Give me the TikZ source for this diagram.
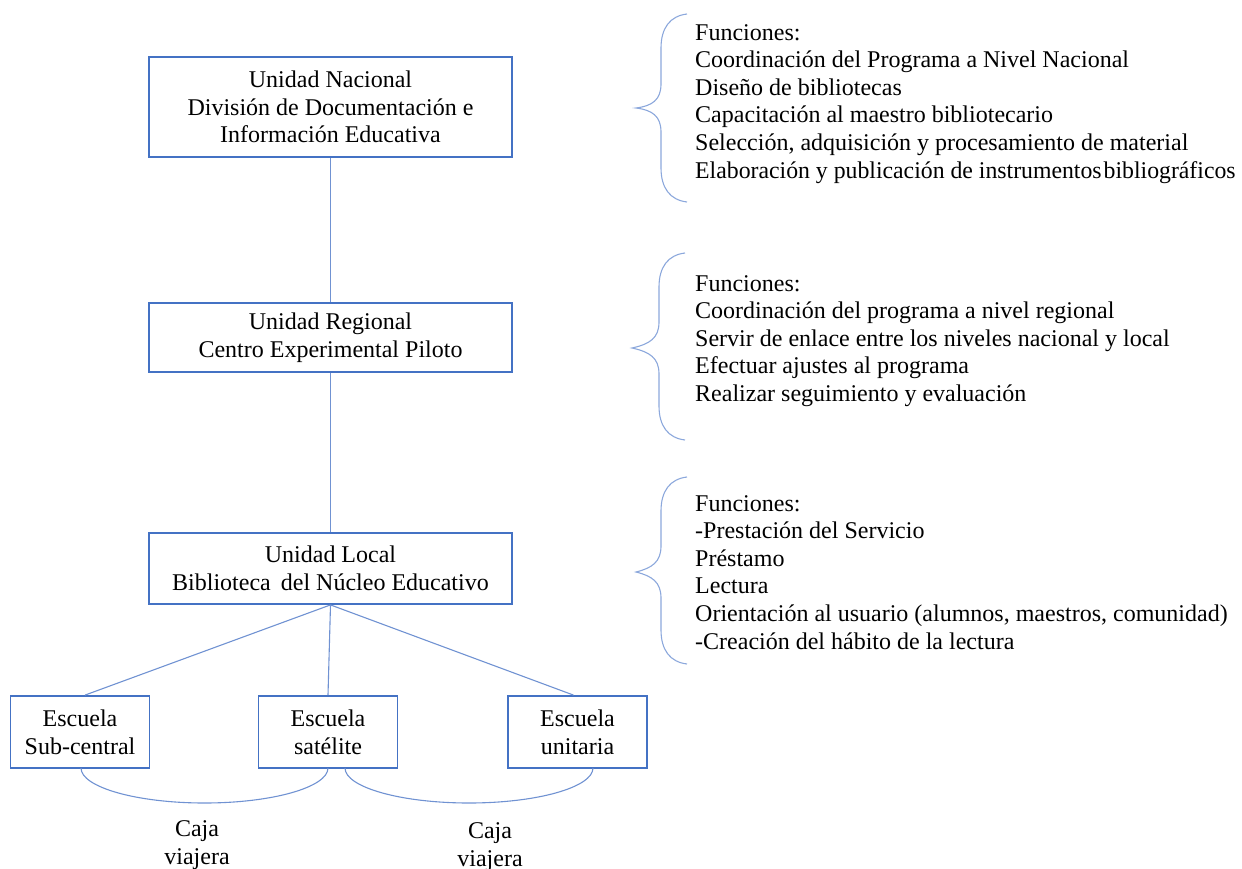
\documentclass[tikz,border=0pt]{standalone}
\usepackage{fontspec}
\setmainfont{Liberation Serif}
\definecolor{boxblue}{RGB}{68,114,196}
\definecolor{lineblue}{RGB}{112,146,210}
\definecolor{braceblue}{RGB}{140,168,220}
\begin{document}
\begin{tikzpicture}[x=1pt,y=-1pt,
  txt/.style={font=\fontsize{24}{27.6}\selectfont},
  unitbox/.style={txt,draw=boxblue,line width=1.8pt,align=center,inner sep=0pt,minimum width=363pt},
  schoolbox/.style={txt,draw=boxblue,line width=1.8pt,align=center,inner sep=0pt,minimum width=139pt,minimum height=72pt},
  conn/.style={draw=lineblue,line width=1.1pt},
  bracepath/.style={draw=braceblue,line width=1.1pt},
  funcs/.style={txt,align=left,anchor=north west,inner sep=0pt},
  label/.style={txt,align=center,inner sep=0pt}]
\useasboundingbox (0,0) rectangle (1242,869);
% unit boxes
\node[unitbox,minimum height=100pt] (nac) at (330.5,107) {Unidad Nacional\\División de Documentación e\\Información Educativa};
\node[unitbox,minimum height=69pt] (reg) at (330.5,337.5) {Unidad Regional\\Centro Experimental Piloto};
\node[unitbox,minimum height=71pt] (loc) at (330.5,568.5) {Unidad Local\\Biblioteca\, del Núcleo Educativo};
% schools
\node[schoolbox] (sub) at (80,732) {Escuela\\Sub-central};
\node[schoolbox] (sat) at (328,732) {Escuela\\satélite};
\node[schoolbox] (uni) at (577.5,732) {Escuela\\unitaria};
% connectors
\draw[conn] (nac.south) -- (reg.north);
\draw[conn] (reg.south) -- (loc.north);
\draw[conn] (loc.south) -- ([xshift=5pt]sub.north);
\draw[conn] (loc.south) -- (sat.north);
\draw[conn] (loc.south) -- ([xshift=-4pt]uni.north);
% travelling box arcs
\coordinate (a1s) at (81,768);
\coordinate (a1e) at (328,768);
\coordinate (a2s) at (345,768);
\coordinate (a2e) at (593,768);
\draw[conn] (a1s) .. controls (81,787) and (136,803) .. (204.5,803) .. controls (273,803) and (328,787) .. (a1e);
\draw[conn] (a2s) .. controls (345,787) and (400,803) .. (469,803) .. controls (538,803) and (593,787) .. (a2e);
\node[label] (c1) at (197,845) {Caja\\viajera};
\node[label] (c2) at (490,847) {Caja\\viajera};
% braces
\draw[bracepath] (687,14) .. controls (670,16) and (661,28) .. (661,48) -- (661,84) .. controls (661,100) and (652,106) .. (636,108) .. controls (652,110) and (661,116) .. (661,132) -- (661,168) .. controls (661,188) and (670,200) .. (687,202);
\draw[bracepath] (685,253) .. controls (668,255) and (659,267) .. (659,287) -- (659,322) .. controls (659,338) and (650,344) .. (632,348) .. controls (650,352) and (659,358) .. (659,374) -- (659,406) .. controls (659,426) and (668,438) .. (685,440);
\draw[bracepath] (687,477) .. controls (670,479) and (661,491) .. (661,511) -- (661,546) .. controls (661,562) and (652,568) .. (636,572) .. controls (652,576) and (661,582) .. (661,598) -- (661,630) .. controls (661,650) and (670,662) .. (687,664);
% function texts
\node[funcs] (f1) at (695,24) {Funciones:\\Coordinación del Programa a Nivel Nacional\\Diseño de bibliotecas\\Capacitación al maestro bibliotecario\\Selección, adquisición y procesamiento de material\\\scalebox{0.99}[1]{Elaboración y publicación de instrumentos\hspace{2pt}bibliográficos}};
\node[funcs] (f2) at (695,275) {Funciones:\\Coordinación del programa a nivel regional\\Servir de enlace entre los niveles nacional y local\\Efectuar ajustes al programa\\Realizar seguimiento y evaluación};
\node[funcs] (f3) at (695,495) {Funciones:\\-Prestación del Servicio\\Préstamo\\Lectura\\Orientación al usuario (alumnos, maestros, comunidad)\\-Creación del hábito de la lectura};
\end{tikzpicture}
\end{document}
